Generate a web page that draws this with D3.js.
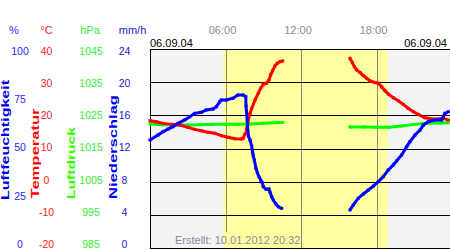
<!DOCTYPE html>
<html>
<head>
<meta charset="utf-8">
<script src="https://cdn.jsdelivr.net/npm/d3@7"></script>
<style>
body { margin: 0; background: #fff; }
svg text { font-family: "Liberation Sans", Arial, sans-serif; }
</style>
</head>
<body>
<script>
// chart values: [hour of day, value]; null marks the gap
var humidity = [
  [0.0, 54.8], [0.64, 57.3], [1.03, 59.0], [1.43, 60.3], [1.83, 61.5], [2.23, 63.2],
  [2.76, 64.9], [3.16, 66.5], [3.55, 68.2], [4.08, 68.7], [4.47, 69.9], [5.01, 70.4],
  [5.27, 71.5], [5.54, 74.0], [5.67, 74.9], [6.06, 74.9], [6.60, 75.8], [6.99, 77.4],
  [7.39, 77.4], [7.61, 76.6], [7.63, 71.9], [7.82, 56.8], [7.95, 54.8], [8.08, 51.8],
  [8.16, 48.4], [8.21, 46.8], [8.29, 44.8], [8.42, 40.6], [8.53, 38.4], [8.66, 36.4],
  [8.80, 34.7], [8.92, 33.4], [9.00, 31.4], [9.22, 30.1], [9.46, 30.2], [9.54, 28.6],
  [9.67, 26.4], [9.80, 24.7], [10.01, 22.7], [10.20, 21.3], [10.47, 20.5],
  [13, null],
  [15.89, 19.7], [16.16, 22.2], [16.55, 25.6], [16.95, 27.7], [17.35, 29.7], [17.75, 31.7],
  [18.14, 33.9], [18.54, 36.4], [18.94, 39.8], [19.34, 42.3], [19.61, 44.4], [20.00, 47.3],
  [20.40, 51.5], [20.66, 54.0], [21.06, 57.3], [21.46, 59.8], [21.72, 62.3], [22.12, 64.0],
  [22.65, 64.9], [23.18, 64.9], [23.44, 68.2], [23.71, 69.0]
];
var temperature = [
  [0.0, 18.7], [0.50, 18.4], [1.03, 17.9], [1.69, 17.6], [2.36, 17.4], [3.02, 16.7],
  [3.55, 16.1], [4.08, 15.7], [4.61, 15.2], [5.14, 14.9], [5.67, 14.2], [6.20, 13.7],
  [6.73, 13.3], [7.26, 13.2], [7.40, 13.4], [7.53, 14.6], [7.63, 14.9], [7.68, 16.2],
  [7.81, 18.9], [7.95, 20.9], [8.08, 22.4], [8.34, 24.9], [8.61, 27.0], [8.80, 28.5],
  [9.00, 29.7], [9.27, 30.0], [9.46, 31.0], [9.59, 32.5], [9.75, 33.8], [9.93, 35.2],
  [10.12, 36.0], [10.33, 36.5], [10.55, 36.7],
  [13, null],
  [15.89, 37.5], [16.08, 36.2], [16.24, 35.0], [16.43, 34.0], [16.69, 33.2], [16.95, 32.3],
  [17.22, 31.5], [17.48, 30.7], [17.88, 30.2], [18.14, 30.0], [18.41, 28.9], [18.68, 27.7],
  [18.94, 26.7], [19.34, 25.6], [19.73, 24.7], [20.13, 23.6], [20.53, 22.4], [20.93, 21.4],
  [21.32, 20.6], [21.85, 19.6], [22.39, 19.2], [22.91, 19.2], [23.31, 19.4], [23.71, 18.9]
];
var pressure = [
  [0.0, 1022.7], [1.0, 1022.5], [2.0, 1022.4], [3.0, 1022.4], [4.0, 1022.5], [5.0, 1022.6],
  [6.0, 1022.6], [7.0, 1022.6], [8.0, 1022.7], [9.0, 1022.9], [10.0, 1023.1], [10.55, 1023.2],
  [13, null],
  [15.89, 1021.8], [17.0, 1021.8], [18.0, 1021.7], [19.0, 1021.7], [20.0, 1022.1],
  [21.0, 1022.6], [22.0, 1022.9], [23.0, 1023.0], [23.71, 1023.1]
];
var daylight = [5.83, 18.9];
var humTicks = [100, 75, 50, 25, 0];
var tempTicks = [40, 30, 20, 10, 0, -10, -20];
var presTicks = [1045, 1035, 1025, 1015, 1005, 995, 985];
var rainTicks = [24, 20, 16, 12, 8, 4, 0];
var hourTicks = [6, 12, 18];
var hourLabels = ["06:00", "12:00", "18:00"];
var dateText = "06.09.04";
var createdText = "Erstellt: 10.01.2012 20:32";

var svg = d3.select("body").append("svg")
  .attr("width", 450)
  .attr("height", 250);

var plotTop = 50, plotBottom = 249.2, plotLeft = 150, plotRight = 452;
var x = d3.scaleLinear().domain([0, 24]).range([plotLeft, plotRight]);
var yT = d3.scaleLinear().domain([-20, 40]).range([plotBottom, plotTop]);
var yH = d3.scaleLinear().domain([0, 100]).range([plotBottom, plotTop]);
var yP = d3.scaleLinear().domain([985, 1045]).range([plotBottom, plotTop]);
// the tick labels sit on a slightly tighter spacing than the grid
var lT = d3.scaleLinear().domain([-20, 40]).range([244, 50.7]);
var lH = d3.scaleLinear().domain([0, 100]).range([244, 50.7]);
var lP = d3.scaleLinear().domain([985, 1045]).range([244, 50.7]);
var lR = d3.scaleLinear().domain([0, 24]).range([244, 50.7]);

// plot background: night grey, day yellow
svg.append("rect")
  .attr("x", plotLeft).attr("y", plotTop)
  .attr("width", plotRight - plotLeft).attr("height", plotBottom - plotTop)
  .attr("fill", "#f3f3f3");
svg.append("rect")
  .attr("x", x(daylight[0])).attr("y", plotTop)
  .attr("width", x(daylight[1]) - x(daylight[0])).attr("height", plotBottom - plotTop)
  .attr("fill", "#ffffa0");

// grid
svg.selectAll(".vgrid").data(hourTicks).enter().append("line")
  .attr("x1", d => Math.round(x(d)) + 0.5).attr("x2", d => Math.round(x(d)) + 0.5)
  .attr("y1", plotTop).attr("y2", (d, i) => i == 0 ? 232 : plotBottom)
  .attr("stroke", "#888").attr("stroke-width", 1);
svg.selectAll(".hgrid").data(tempTicks).enter().append("line")
  .attr("x1", plotLeft).attr("x2", 450)
  .attr("y1", d => Math.round(yT(d)) - 0.5).attr("y2", d => Math.round(yT(d)) - 0.5)
  .attr("stroke", "#000").attr("stroke-width", 1);
svg.append("line")
  .attr("x1", plotLeft + 0.5).attr("x2", plotLeft + 0.5)
  .attr("y1", plotTop).attr("y2", plotBottom)
  .attr("stroke", "#000");

// created stamp
svg.append("text")
  .attr("x", 175).attr("y", 244)
  .attr("font-size", "11px").attr("fill", "#8a8a9c")
  .text(createdText);

// series: squares joined by a thick stroke
function drawSeries(data, yScale, color) {
  var line = d3.line()
    .defined(d => d[1] != null)
    .x(d => x(d[0])).y(d => yScale(d[1]));
  svg.append("path").datum(data)
    .attr("d", line)
    .attr("fill", "none").attr("stroke", color).attr("stroke-width", 3);
  svg.selectAll(null).data(data.filter(d => d[1] != null)).enter().append("rect")
    .attr("x", d => x(d[0]) - 1.5).attr("y", d => yScale(d[1]) - 1.5)
    .attr("width", 3).attr("height", 3)
    .attr("fill", color);
}
drawSeries(pressure, yP, "#00ff00");
drawSeries(temperature, yT, "#ff0000");
drawSeries(humidity, yH, "#0000ff");

// header row
var heads = [["%", 14, "#2a2aff"], ["°C", 46.5, "#ff2020"], ["hPa", 90, "#33ee33"], ["mm/h", 132.5, "#2020cc"]];
svg.selectAll(".head").data(heads).enter().append("text")
  .attr("x", d => d[1]).attr("y", 34)
  .attr("text-anchor", "middle").attr("font-size", "11px")
  .attr("fill", d => d[2])
  .text(d => d[0]);

svg.selectAll(".hour").data(hourTicks).enter().append("text")
  .attr("x", d => x(d) - 3).attr("y", 34)
  .attr("text-anchor", "middle").attr("font-size", "11px")
  .attr("fill", "#8a8a9c")
  .text((d, i) => hourLabels[i]);

svg.append("text").attr("x", 150).attr("y", 47)
  .attr("font-size", "11px").attr("fill", "#000").text(dateText);
svg.append("text").attr("x", 447).attr("y", 47)
  .attr("text-anchor", "end")
  .attr("font-size", "11px").attr("fill", "#000").text(dateText);

// tick label columns
function tickColumn(ticks, scale, cx, color) {
  svg.selectAll(null).data(ticks).enter().append("text")
    .attr("x", cx).attr("y", d => scale(d) + 4)
    .attr("text-anchor", "middle").attr("font-size", "10.5px")
    .attr("fill", color)
    .text(d => d);
}
tickColumn(humTicks, lH, 20, "#2a2aff");
tickColumn(tempTicks, lT, 46.5, "#ff2020");
tickColumn(presTicks, lP, 91, "#33ee33");
tickColumn(rainTicks, lR, 124.5, "#2020cc");

// rotated axis titles
var titles = [
  ["Luftfeuchtigkeit", 8.5, 200, 120, "#0000ee"],
  ["Temperatur", 39, 198.5, 90, "#ff0000"],
  ["Luftdruck", 75, 199, 72, "#33ff00"],
  ["Niederschlag", 116.7, 199, 104, "#0000ee"]
];
svg.selectAll(".title").data(titles).enter().append("text")
  .attr("transform", d => "translate(" + d[1] + "," + d[2] + ") rotate(-90)")
  .attr("font-size", "10.5px").attr("font-weight", "bold")
  .attr("textLength", d => d[3]).attr("lengthAdjust", "spacingAndGlyphs")
  .attr("fill", d => d[4])
  .text(d => d[0]);
</script>
</body>
</html>
